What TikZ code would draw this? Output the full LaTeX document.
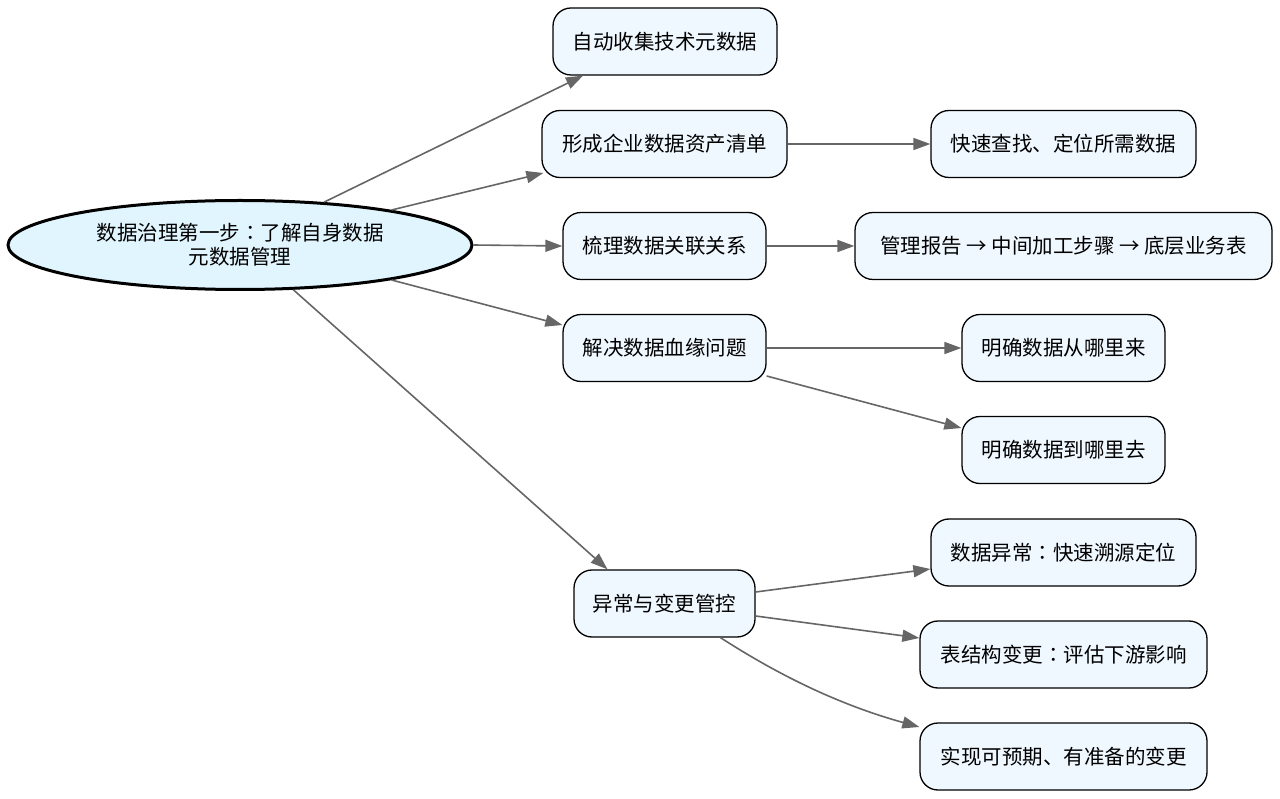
\documentclass[tikz,border=0pt]{standalone}
\usepackage{fontspec}
\setmainfont{Noto Sans CJK SC}
\newfontfamily\tcfont{Noto Sans CJK TC}
\newcommand{\mycolon}{{\tcfont ：}}
\usetikzlibrary{shapes.geometric,arrows.meta}
\definecolor{boxfill}{HTML}{F0F8FF}
\definecolor{rootfill}{HTML}{E1F5FE}
\definecolor{edgegray}{HTML}{666666}
\tikzset{
  box/.style={draw=black, line width=1.3pt, fill=boxfill, rounded corners=18pt,
    minimum height=67pt, inner sep=0pt, font=\fontsize{20.5}{24}\selectfont},
  rootnode/.style={draw=black, line width=3pt, fill=rootfill, ellipse,
    minimum width=464pt, minimum height=89pt, inner sep=0pt, align=center,
    font=\fontsize{20.5}{24}\selectfont},
  conn/.style={draw=edgegray, line width=1.6pt,
    -{Triangle[length=17pt,width=12pt,fill=edgegray]}}
}
\begin{document}
\begin{tikzpicture}[x=1pt,y=-1pt]
\useasboundingbox (0,0) rectangle (1280,799);
\node[rootnode] (root) at (240,245) {数据治理第一步\mycolon 了解自身数据\\元数据管理};
\node[box, minimum width=224pt] (A) at (665,41.5) {自动收集技术元数据};
\node[box, minimum width=245pt] (B) at (664.5,144) {形成企业数据资产清单};
\node[box, minimum width=203pt] (C) at (664.5,246) {梳理数据关联关系};
\node[box, minimum width=203pt] (D) at (664.5,348) {解决数据血缘问题};
\node[box, minimum width=181pt] (E) at (664.5,603.5) {异常与变更管控};
\node[box, minimum width=265pt] (B1) at (1063.5,144) {快速查找、定位所需数据};
\node[box, minimum width=417pt] (C1) at (1063.5,246) {管理报告 → 中间加工步骤 → 底层业务表};
\node[box, minimum width=203pt] (D1) at (1063.5,348) {明确数据从哪里来};
\node[box, minimum width=203pt] (D2) at (1063.5,450) {明确数据到哪里去};
\node[box, minimum width=265pt] (E1) at (1063.5,552.5) {数据异常\mycolon 快速溯源定位};
\node[box, minimum width=287pt] (E2) at (1063.5,654.5) {表结构变更\mycolon 评估下游影响};
\node[box, minimum width=287pt] (E3) at (1063.5,756.5) {实现可预期、有准备的变更};

\draw[conn] (root.27) -- ([xshift=-82pt]A.south);
\draw[conn] (root.13) -- ([xshift=2pt,yshift=-29pt]B.west);
\draw[conn] (root.east) -- (C.west);
\draw[conn] (root.-13) -- ([yshift=23pt]D.west);
\draw[conn] (root.-40) -- ([xshift=-57pt]E.north);
\draw[conn] (B.east) -- (B1.west);
\draw[conn] (C.east) -- (C1.west);
\draw[conn] (D.east) -- (D1.west);
\draw[conn] ([yshift=-28pt]D.east) -- ([yshift=22pt]D2.west);
\draw[conn] ([yshift=11.5pt]E.east) -- ([yshift=-16.5pt]E1.west);
\draw[conn] ([yshift=-12.5pt]E.east) -- ([yshift=16.5pt]E2.west);
\draw[conn] ([xshift=56pt]E.south) .. controls (780,676) and (840,705) .. ([yshift=29.5pt]E3.west);
\end{tikzpicture}
\end{document}
